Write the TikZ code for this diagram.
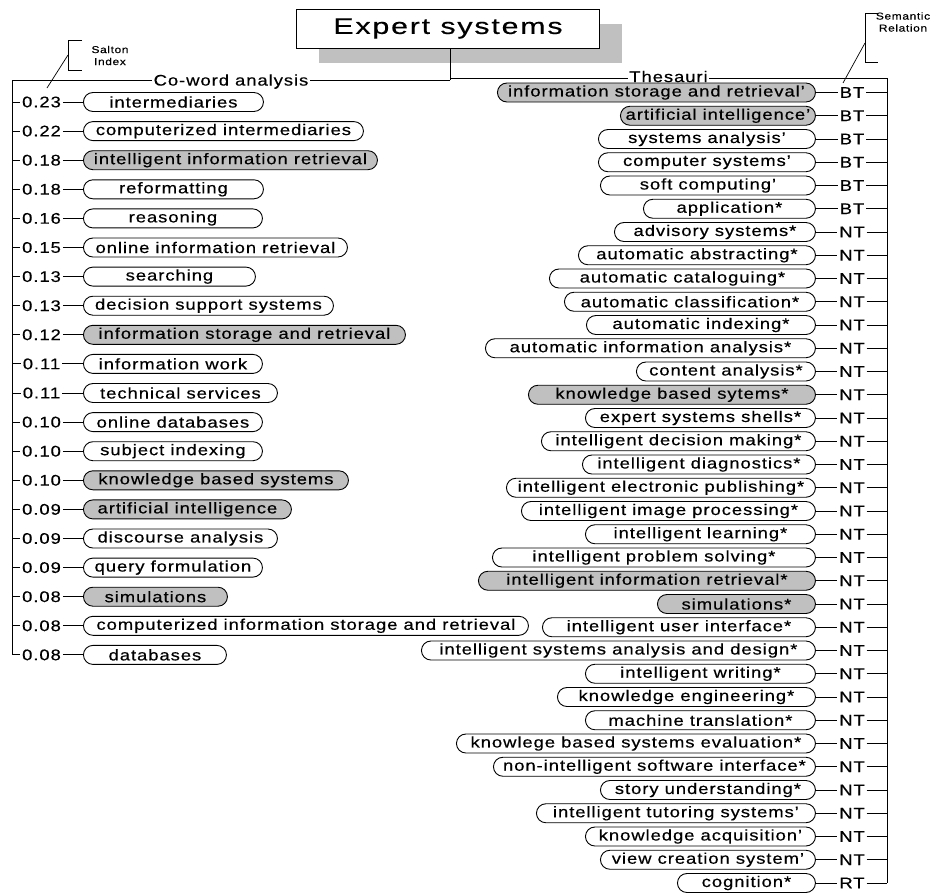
\documentclass[tikz,border=0pt]{standalone}
\usepackage{fontspec}
\setmainfont{Liberation Sans}[FakeStretch=1.2,LetterSpace=6,FakeBold=0.4]
\newfontfamily\titlefont{Liberation Sans}[FakeStretch=1.35,LetterSpace=8,FakeBold=0.4]
\usetikzlibrary{shadows}
\definecolor{pillgray}{RGB}{192,192,192}
\definecolor{shadowgray}{RGB}{192,192,192}
\newcommand{\fsn}{\fontsize{15.4}{17}\selectfont}
\newcommand{\fss}{\fontsize{10}{12}\selectfont}
\begin{document}
\begin{tikzpicture}[x=1pt,y=-1pt,line width=0.9pt,
  pill/.style={draw, rounded corners=9.5pt, minimum height=19pt, inner sep=0pt, anchor=west, font=\fsn},
  num/.style={inner sep=1.5pt, font=\fsn},
  rel/.style={inner sep=1.5pt, font=\fsn},
  lbl/.style={fill=white, inner sep=1.5pt, text depth=0pt, font=\fsn},
  note/.style={inner sep=0pt, font=\fss, align=center},
  titlebox/.style={draw, fill=white, minimum width=303pt, minimum height=39pt, inner sep=0pt,
    font=\titlefont\fontsize{22.5}{24}\selectfont,
    general shadow={fill=shadowgray, draw=none, shadow xshift=22pt, shadow yshift=-15pt}}]
\useasboundingbox (0,0) rectangle (938,894);

% title
\node[titlebox] (title) at (448,28.5) {Expert systems};
\coordinate (jl) at (450,80);
\coordinate (jr) at (450,78);
\coordinate (lc) at (12,80);
\coordinate (rc) at (887,78);
\draw (title.south -| jl) -- (jl);
\draw (jl) -- node[lbl] (cw) {Co-word analysis} (lc);
\draw (jr) -- node[lbl, yshift=1.5pt] (th) {Thesauri} (rc);

% Salton index note
\coordinate (s1) at (82,40);
\coordinate (s2) at (68,40);
\coordinate (s3) at (68,70);
\coordinate (s4) at (82,70);
\coordinate (sm) at (68,55);
\coordinate (se) at (47,88);
\draw[line width=0.7pt] (s1) -- (s2) -- (s3) -- (s4);
\draw[line width=0.7pt] (sm) -- (se);
\node[note] (salton) at (110,55.5) {Salton\\Index};

% Semantic relation note
\coordinate (t1) at (878,13);
\coordinate (t2) at (865,13);
\coordinate (t3) at (865,62);
\coordinate (t4) at (878,62);
\coordinate (tm) at (865,43);
\coordinate (te) at (843,83);
\draw[line width=0.7pt] (t1) -- (t2) -- (t3) -- (t4);
\draw[line width=0.7pt] (tm) -- (te);
\node[note] (semrel) at (903,22) {Semantic\\Relation};

% left list
\foreach \ix/\vx/\rx/\tx/\fc in {
 1/0.23/263/intermediaries/white,
 2/0.22/363/computerized intermediaries/white,
 3/0.18/377/intelligent information retrieval/pillgray,
 4/0.18/263/reformatting/white,
 5/0.16/262/reasoning/white,
 6/0.15/347/online information retrieval/white,
 7/0.13/255/searching/white,
 8/0.13/333/decision support systems/white,
 9/0.12/405/information storage and retrieval/pillgray,
 10/0.11/262/information work/white,
 11/0.11/277/technical services/white,
 12/0.10/262/online databases/white,
 13/0.10/262/subject indexing/white,
 14/0.10/348/knowledge based systems/pillgray,
 15/0.09/291/artificial intelligence/pillgray,
 16/0.09/277/discourse analysis/white,
 17/0.09/262/query formulation/white,
 18/0.08/227/simulations/pillgray,
 19/0.08/528/computerized information storage and retrieval/white,
 20/0.08/226/databases/white}{
  \pgfmathsetmacro\yy{102+29.1*(\ix-1)}
  \pgfmathsetmacro\ww{\rx-83}
  \node[num] (n\ix) at (41.5,\yy) {\vx};
  \node[pill, fill=\fc, minimum width=\ww pt] (p\ix) at (83,\yy) {\tx};
  \draw (lc |- n\ix) -- (n\ix.west);
  \draw (n\ix.east) -- (p\ix.west);
}
\draw (lc) -- (lc |- n20);

% right list
\foreach \ix/\lx/\tx/\fc/\rl in {
 1/497/information storage and retrieval'/pillgray/BT,
 2/620/artificial intelligence'/pillgray/BT,
 3/598/systems analysis'/white/BT,
 4/598/computer systems'/white/BT,
 5/600/soft computing'/white/BT,
 6/643/application*/white/BT,
 7/614/advisory systems*/white/NT,
 8/578/automatic abstracting*/white/NT,
 9/549/automatic cataloguing*/white/NT,
 10/564/automatic classification*/white/NT,
 11/586/automatic indexing*/white/NT,
 12/485/automatic information analysis*/white/NT,
 13/636/content analysis*/white/NT,
 14/528/knowledge based sytems*/pillgray/NT,
 15/585/expert systems shells*/white/NT,
 16/541/intelligent decision making*/white/NT,
 17/582/intelligent diagnostics*/white/NT,
 18/506/intelligent electronic publishing*/white/NT,
 19/521/intelligent image processing*/white/NT,
 20/585/intelligent learning*/white/NT,
 21/492/intelligent problem solving*/white/NT,
 22/478/intelligent information retrieval*/pillgray/NT,
 23/657/simulations*/pillgray/NT,
 24/542/intelligent user interface*/white/NT,
 25/421/intelligent systems analysis and design*/white/NT,
 26/585/intelligent writing*/white/NT,
 27/557/knowledge engineering*/white/NT,
 28/585/machine translation*/white/NT,
 29/456/knowlege based systems evaluation*/white/NT,
 30/493/non-intelligent software interface*/white/NT,
 31/600/story understanding*/white/NT,
 32/536/intelligent tutoring systems'/white/NT,
 33/585/knowledge acquisition'/white/NT,
 34/600/view creation system'/white/NT,
 35/677/cognition*/white/RT}{
  \pgfmathsetmacro\yy{92.5+23.25*(\ix-1)}
  \pgfmathsetmacro\ww{815-\lx}
  \node[pill, fill=\fc, minimum width=\ww pt] (q\ix) at (\lx,\yy) {\tx};
  \node[rel] (r\ix) at (852,\yy) {\rl};
  \draw (q\ix.east) -- (r\ix.west);
  \draw (r\ix.east) -- (rc |- r\ix);
}
\draw (rc) -- (rc |- r35);
\end{tikzpicture}
\end{document}
